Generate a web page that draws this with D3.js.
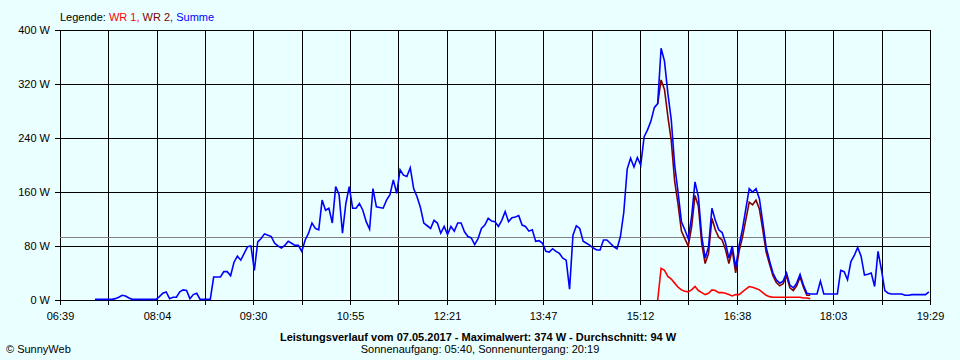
<!DOCTYPE html>
<html><head><meta charset="utf-8">
<script src="https://cdn.jsdelivr.net/npm/d3@7"></script>
<style>
html,body{margin:0;padding:0;background:#EAFFFF;}
svg{display:block;}
text{font-family:"Liberation Sans",Arial,sans-serif;font-size:11px;fill:#000;}
</style></head><body>
<svg id="chart" width="960" height="360"></svg>
<script>
// ---------- data ----------
const timeDomain = ["06:39", "19:29"];
const gridDivisions = 18;
const xTickLabels = ["06:39","08:04","09:30","10:55","12:21","13:47","15:12","16:38","18:03","19:29"];
const yTickValues = [0, 80, 160, 240, 320, 400];
const yUnit = " W";
const stepMinutes = 3;

const summeStart = "07:10";
const summeValues = [
  1,1,1,1,1,1,2,4,7,6,
  3,1,1,1,1,1,1,1,1,5,
  10,12,2,4,4,12,15,14,2,8,
  10,1,1,1,1,34,34,34,42,42,
  36,56,65,59,69,79,80,44,86,91,
  98,96,94,84,80,77,81,87,84,81,
  81,72,89,99,114,106,104,148,133,136,
  114,168,156,99,143,168,136,136,143,133,
  116,105,165,138,137,136,148,156,178,158,
  193,185,183,196,165,153,137,114,110,106,
  118,114,99,109,97,109,102,114,114,101,
  94,92,82,91,106,111,121,117,116,109,
  118,131,116,122,123,125,111,109,102,104,
  87,88,84,72,71,76,72,69,62,59,
  16,96,110,106,87,84,81,77,74,74,
  89,89,84,79,76,94,130,194,210,197,
  211,200,242,252,265,285,291,373,354,306,
  267,200,160,116,104,91,123,175,153,94,
  62,79,136,118,104,100,85,62,80,48,
  80,105,135,165,160,165,150,115,78,58,
  40,30,25,28,40,22,18,25,38,22,
  10,9,9,9,28,9,9,9,9,9,
  44,42,30,57,66,78,65,37,38,40,
  20,72,45,14,10,9,9,9,9,7,
  7,8,8,8,8,8,12
];

const wr1Start = "15:28";
const wr1Values = [
  0,47,44,35,31,25,19,15,13,12,
  15,20,14,11,8,10,15,14,11,11,
  10,8,6,8,8,12,16,20,19,17,
  15,11,7,5,4,4,4,4,4,4,
  4,4,4,3,3,2
];

const wr2Start = "15:28";
const wr2Values = [
  291,326,312,272,236,176,142,102,91,80,
  108,155,139,83,54,69,121,104,93,89,
  75,54,74,40,72,93,119,145,141,148,
  135,104,71,53,36,26,21,24,36,18,
  14,21,34,19,7,7
];

const averageValue = 94;
const legendPrefix = "Legende: ";
const legendLabels = ["WR 1,", " WR 2,", " Summe"];
const titleText = "Leistungsverlauf vom 07.05.2017 - Maximalwert: 374 W - Durchschnitt: 94 W";
const subtitleText = "Sonnenaufgang: 05:40, Sonnenuntergang: 20:19";
const creditText = "\u00A9 SunnyWeb";

// ---------- drawing ----------
const toMin = s => { const [h, m] = s.split(":").map(Number); return h * 60 + m; };
const series = (start, vals) => vals.map((v, i) => ({ t: toMin(start) + i * stepMinutes, v }));

const svg = d3.select("#chart");
const L = 60, R = 930, T = 30, B = 300;
const t0 = toMin(timeDomain[0]), t1 = toMin(timeDomain[1]);

const x = d3.scaleLinear().domain([t0, t1]).range([L, R]);
const y = d3.scaleLinear().domain([0, 400]).range([B, T]);
const xg = x.copy().interpolate(d3.interpolateRound);
const yg = y.copy().interpolate(d3.interpolateRound);

const gridTimes = d3.range(gridDivisions + 1).map(k => t0 + k * (t1 - t0) / gridDivisions);

// y axis + horizontal grid
const yAxis = d3.axisLeft(yg).tickValues(yTickValues).tickSizeInner(-(R - L)).tickSizeOuter(0)
  .tickPadding(10).tickFormat(d => d + yUnit);
const gy = svg.append("g").attr("transform", `translate(${L},0)`).call(yAxis);
gy.select(".domain").remove();
gy.selectAll(".tick line").attr("x1", -5).attr("stroke", "#000");
gy.selectAll(".tick text").attr("font-size", 11).attr("font-family", "Liberation Sans, Arial, sans-serif").attr("fill", "#000");

// x axis + vertical grid
const xAxis = d3.axisBottom(xg).tickValues(gridTimes).tickSizeInner(-(B - T)).tickSizeOuter(0)
  .tickPadding(12).tickFormat((d, i) => i % 2 === 0 ? xTickLabels[i / 2] : "");
const gx = svg.append("g").attr("transform", `translate(0,${B})`).call(xAxis);
gx.select(".domain").remove();
gx.selectAll(".tick line").attr("y1", 5).attr("stroke", "#000");
gx.selectAll(".tick text").attr("font-size", 11).attr("font-family", "Liberation Sans, Arial, sans-serif").attr("fill", "#000");

// average line
const ya = Math.round(y(averageValue)) + 0.5;
svg.append("line").attr("x1", L).attr("x2", R).attr("y1", ya).attr("y2", ya)
  .attr("stroke", "#808080").attr("stroke-width", 1);

// series
const line = d3.line().x(d => x(d.t)).y(d => y(d.v));
const plots = [
  { data: series(wr1Start, wr1Values), color: "#FF0000" },
  { data: series(wr2Start, wr2Values), color: "#800000" },
  { data: series(summeStart, summeValues), color: "#0000FF" }
];
svg.append("g").selectAll("path").data(plots).join("path")
  .attr("d", d => line(d.data)).attr("fill", "none")
  .attr("stroke", d => d.color).attr("stroke-width", 1.6)
  .attr("stroke-linejoin", "miter");

// legend
const legendColors = ["#FF0000", "#800000", "#0000FF"];
const lg = svg.append("text").attr("x", 60).attr("y", 21);
lg.append("tspan").text(legendPrefix);
legendLabels.forEach((l, i) => lg.append("tspan").attr("fill", legendColors[i]).text(l));

// titles
svg.append("text").attr("x", 478).attr("y", 341).attr("text-anchor", "middle")
  .attr("font-weight", "bold").attr("font-size", 12.1).text(titleText);
svg.append("text").attr("x", 480).attr("y", 353).attr("text-anchor", "middle").text(subtitleText);
svg.append("text").attr("x", 6).attr("y", 353).text(creditText);
</script>
</body></html>
